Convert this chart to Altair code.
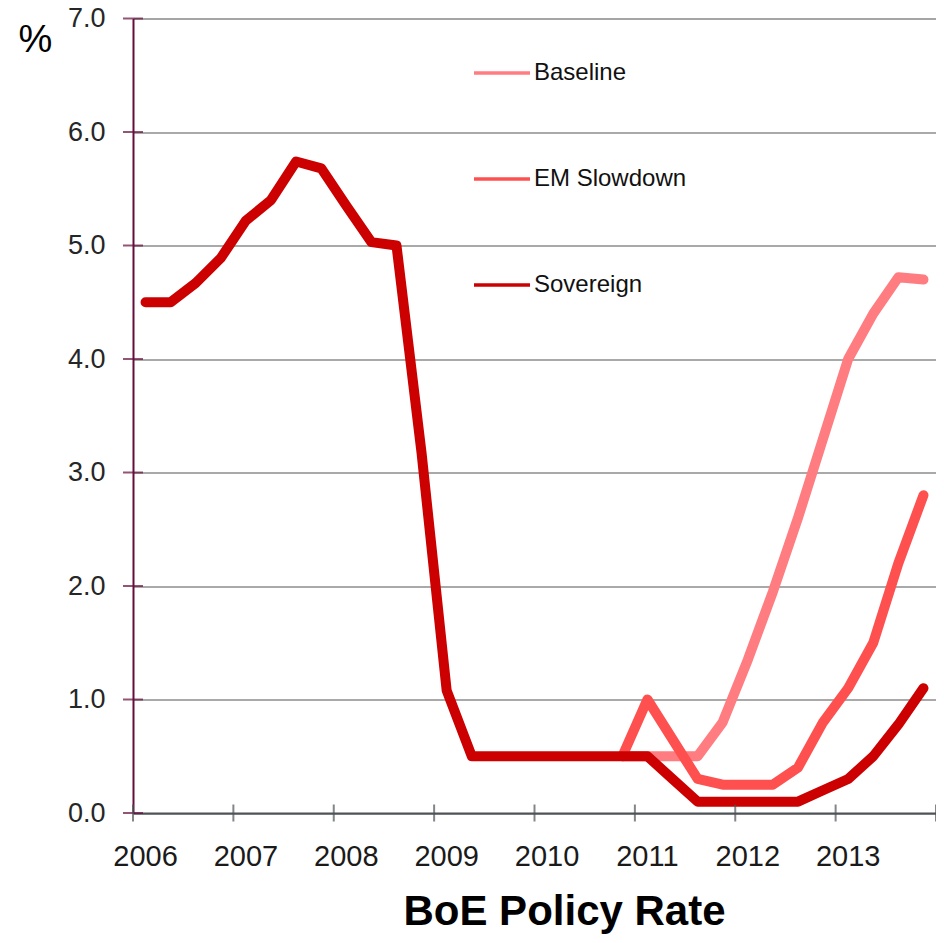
import altair as alt
import pandas as pd

FONT = "Liberation Sans"

# ---------------- data ----------------
quarters = [
    "2006Q1", "2006Q2", "2006Q3", "2006Q4",
    "2007Q1", "2007Q2", "2007Q3", "2007Q4",
    "2008Q1", "2008Q2", "2008Q3", "2008Q4",
    "2009Q1", "2009Q2", "2009Q3", "2009Q4",
    "2010Q1", "2010Q2", "2010Q3", "2010Q4",
    "2011Q1", "2011Q2", "2011Q3", "2011Q4",
    "2012Q1", "2012Q2", "2012Q3", "2012Q4",
    "2013Q1", "2013Q2", "2013Q3", "2013Q4",
]
sovereign = [
    4.50, 4.50, 4.67, 4.89,
    5.22, 5.40, 5.74, 5.68,
    5.35, 5.03, 5.00, 3.17,
    1.08, 0.50, 0.50, 0.50,
    0.50, 0.50, 0.50, 0.50,
    0.50, 0.30, 0.10, 0.10,
    0.10, 0.10, 0.10, 0.20,
    0.30, 0.50, 0.78, 1.10,
]
scenario_quarters = quarters[19:]
baseline = [0.50, 0.50, 0.50, 0.50, 0.80, 1.35, 1.95, 2.60, 3.30, 4.00, 4.40, 4.72, 4.70]
em_slowdown = [0.50, 1.00, 0.65, 0.30, 0.25, 0.25, 0.25, 0.40, 0.80, 1.10, 1.50, 2.20, 2.80]

series_names = ["Baseline", "EM Slowdown", "Sovereign"]
series_colors = ["#FF7C80", "#FF5050", "#CC0000"]
y_ticks = [0, 1, 2, 3, 4, 5, 6, 7]
x_ticks = [2006, 2007, 2008, 2009, 2010, 2011, 2012, 2013, 2014]


def qpos(q):
    return int(q[:4]) + (int(q[5]) - 0.5) / 4


rows = []
for q, v in zip(quarters, sovereign):
    rows.append({"series": "Sovereign", "t": qpos(q), "v": v})
for q, v in zip(scenario_quarters, baseline):
    rows.append({"series": "Baseline", "t": qpos(q), "v": v})
for q, v in zip(scenario_quarters, em_slowdown):
    rows.append({"series": "EM Slowdown", "t": qpos(q), "v": v})
df = pd.DataFrame(rows)

x_scale = alt.Scale(domain=[2006, 2014], nice=False, zero=False)
y_scale = alt.Scale(domain=[0, 7], nice=False, zero=True)

x_axis = alt.Axis(
    values=x_ticks, format="d",
    labelExpr="datum.value < 2014 ? datum.label : ''",
    ticks=False, grid=False,
    domainColor="#4D5357", domainWidth=2,
    labelFont=FONT, labelFontSize=29, labelColor="#1a1a1a",
    labelPadding=29, labelOffset=12, labelFlush=False, title=None,
)
y_axis = alt.Axis(
    values=y_ticks, format=".1f",
    ticks=False, grid=True, gridColor="#8C8C8C", gridWidth=1.5,
    domainColor="#650D3B", domainWidth=2,
    labelFont=FONT, labelFontSize=27, labelColor="#262626",
    labelPadding=28, labelFlush=False,
    title="%", titleAngle=0, titleX=-98, titleY=22, titleFont=FONT,
    titleFontSize=38, titleFontWeight="normal", titleColor="black",
    titleAlign="center", titleBaseline="middle",
)
legend = alt.Legend(
    orient="none", legendX=339, legendY=43.5, title=None,
    symbolType="stroke", symbolSize=3136, symbolStrokeWidth=3.5,
    labelFont=FONT, labelFontSize=24, labelColor="#111111",
    labelOffset=2, rowPadding=82, clipHeight=22, padding=0,
    direction="vertical",
)

base = alt.Chart(df).encode(
    x=alt.X("t:Q", scale=x_scale, axis=x_axis),
    y=alt.Y("v:Q", scale=y_scale, axis=y_axis),
    color=alt.Color("series:N", scale=alt.Scale(domain=series_names, range=series_colors), legend=legend),
)

line_layers = [
    base.transform_filter(alt.datum.series == s).mark_line(
        strokeWidth=10, strokeCap="round", strokeJoin="round"
    )
    for s in series_names
]

ytick_layer = alt.Chart(pd.DataFrame({"v": y_ticks})).mark_tick(
    orient="horizontal", size=20, thickness=2, color="#650D3B"
).encode(
    x=alt.datum(2006, scale=x_scale, axis=x_axis),
    y=alt.Y("v:Q", scale=y_scale, axis=y_axis),
)
xtick_layer = alt.Chart(pd.DataFrame({"t": x_ticks})).mark_tick(
    orient="vertical", size=17, thickness=2, color="#4D5357"
).encode(
    x=alt.X("t:Q", scale=x_scale, axis=x_axis),
    y=alt.datum(0, scale=y_scale, axis=y_axis),
)

chart = alt.layer(*line_layers, ytick_layer, xtick_layer).properties(
    width=803,
    height=794.5,
    title=alt.TitleParams(
        "BoE Policy Rate", orient="bottom", anchor="middle",
        font=FONT, fontSize=42, fontWeight="bold", color="black",
        dx=30, offset=21,
    ),
    autosize=alt.AutoSizeParams(type="none"),
    padding={"left": 125, "top": 10.5, "right": 0, "bottom": 122},
).configure_view(
    stroke="#8C8C8C", strokeWidth=1.5
).configure(background="white")

chart.save("out.html", embed_options={"renderer": "svg", "actions": False})
